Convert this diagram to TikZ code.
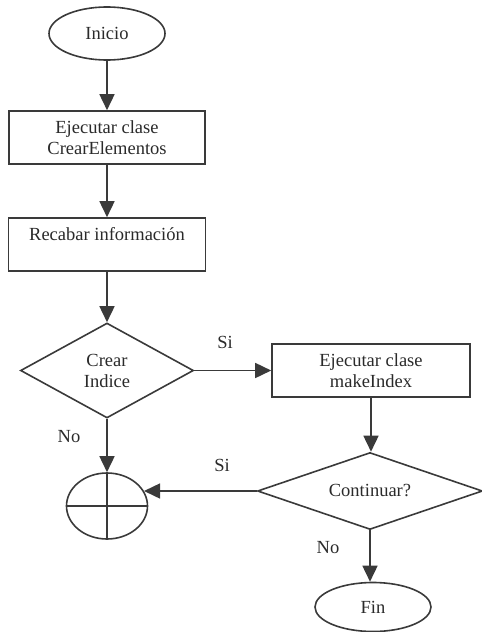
\documentclass[tikz,border=0pt]{standalone}
\usepackage{fontspec}
\setmainfont{Liberation Serif}
\usetikzlibrary{shapes.geometric,arrows.meta}
\definecolor{ink}{HTML}{3A3A3A}
\definecolor{txt}{HTML}{2A2A2A}
\begin{document}
\begin{tikzpicture}[x=1pt,y=-1pt,
  every node/.style={font=\fontsize{18.5}{21}\selectfont, text=txt},
  shp/.style={draw=ink, line width=1.6pt, inner sep=0pt, align=center},
  procbox/.style={shp, rectangle},
  term/.style={shp, ellipse},
  decis/.style={shp, diamond},
  arr/.style={draw=ink, line width=1.6pt, -{Triangle[length=16pt,width=15pt]}},
  lbl/.style={inner sep=0pt}]
\useasboundingbox (0,0) rectangle (482,632);
\node[term, minimum width=116pt, minimum height=53pt] (inicio) at (107,33.5) {Inicio};
\node[procbox, minimum width=196pt, minimum height=53pt] (box1) at (107,137.5) {Ejecutar clase\\CrearElementos};
\node[procbox, minimum width=197pt, minimum height=53pt] (box2) at (107,244.5) {Recabar información\\~};
\node[decis, minimum width=173pt, minimum height=95pt] (d1) at (107,370.5) {Crear\\Indice};
\node[procbox, minimum width=198pt, minimum height=53pt] (box3) at (371,370.5) {Ejecutar clase\\makeIndex};
\node[decis, minimum width=225pt, minimum height=77pt, shape aspect=3] (d2) at (370,491) {Continuar?};
\node[term, minimum width=81pt, minimum height=66pt] (conn) at (107,506) {};
\node[term, minimum width=116pt, minimum height=49pt] (fin) at (373,607) {Fin};
\draw[draw=ink, line width=1.6pt] (conn.north) -- (conn.south) (conn.west) -- (conn.east);
\draw[arr] (inicio.south) -- (box1.north);
\draw[arr] (box1.south) -- (box2.north);
\draw[arr] (box2.south) -- (d1.north);
\draw[arr] (d1.east) -- (box3.west |- d1.east);
\draw[arr] (d1.south) -- (conn.north);
\draw[arr] (box3.south) -- (box3.south |- d2.north);
\draw[arr] (d2.west) -- (conn.22.8 |- d2.west);
\draw[arr] (d2.south) -- (d2.south |- fin.north);
\node[lbl] (si1) at (225,342) {Si};
\node[lbl] (si2) at (222,465) {Si};
\node[lbl] (no1) at (69,437) {No};
\node[lbl] (no2) at (328,548) {No};
\end{tikzpicture}
\end{document}
